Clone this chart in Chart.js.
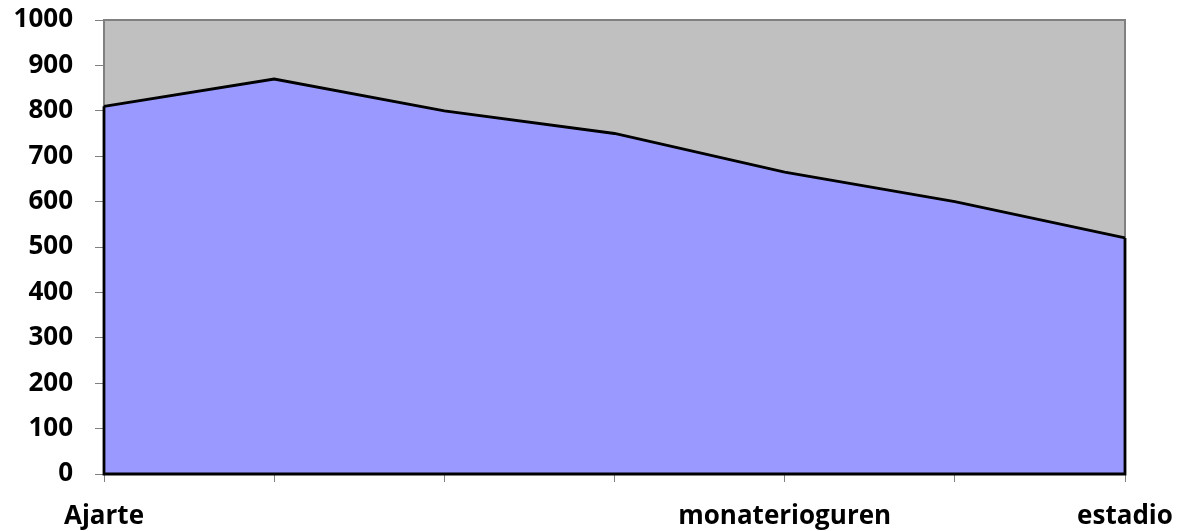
<!DOCTYPE html>
<html>
<head>
<meta charset="utf-8">
<script src="https://cdn.jsdelivr.net/npm/chart.js@4/dist/chart.umd.min.js"></script>
<style>
  body { margin: 0; background: #fff; }
  canvas { display: block; }
</style>
</head>
<body>
<canvas id="areaChart" width="1182" height="531"></canvas>
<script>
  // categories (only some labels are printed on the axis)
  const stops = ['Ajarte', '', '', '', 'monaterioguren', '', 'estadio']
  const values = [810, 870, 800, 750, 665, 600, 520]
  const yTicks = [0, 100, 200, 300, 400, 500, 600, 700, 800, 900, 1000]

  const labelFont = { family: 'Open Sans', size: 26, weight: 'bold' }

  // grey plot background with a grey frame, plus the black outline of the area
  const plotFrame = {
    id: 'plotFrame',
    beforeDraw(chart) {
      const { ctx, chartArea: a } = chart
      ctx.save()
      ctx.fillStyle = '#c0c0c0'
      ctx.fillRect(a.left, a.top, a.right - a.left, a.bottom - a.top)
      ctx.strokeStyle = '#808080'
      ctx.lineWidth = 2
      ctx.beginPath()
      ctx.moveTo(a.left, a.top)
      ctx.lineTo(a.right, a.top)
      ctx.lineTo(a.right, a.bottom)
      ctx.stroke()
      ctx.restore()
    },
    afterDatasetsDraw(chart) {
      const { ctx } = chart
      const pts = chart.getDatasetMeta(0).data
      const first = pts[0]
      const last = pts[pts.length - 1]
      const base = chart.scales.y.getPixelForValue(0)
      ctx.save()
      ctx.strokeStyle = '#000'
      ctx.lineWidth = 2.8
      ctx.beginPath()
      ctx.moveTo(first.x, first.y)
      ctx.lineTo(first.x, base)
      ctx.lineTo(last.x, base)
      ctx.lineTo(last.x, last.y)
      ctx.stroke()
      ctx.restore()
    }
  }

  new Chart(document.getElementById('areaChart'), {
    type: 'line',
    data: {
      labels: stops,
      datasets: [{
        data: values,
        fill: 'origin',
        backgroundColor: '#9999ff',
        borderColor: '#000',
        borderWidth: 2.8,
        pointRadius: 0,
        tension: 0
      }]
    },
    options: {
      responsive: false,
      animation: false,
      layout: { padding: { top: 20, right: 57, left: 0, bottom: 0 } },
      plugins: { legend: { display: false }, tooltip: { enabled: false } },
      scales: {
        x: {
          afterFit(scale) {
            scale.height = 57
            scale.paddingLeft = 0
            scale.paddingRight = 0
          },
          border: { color: '#808080', width: 2 },
          grid: { drawOnChartArea: false, color: '#808080', tickLength: 8 },
          ticks: {
            autoSkip: false,
            maxRotation: 0,
            padding: 19,
            color: '#000',
            font: labelFont
          }
        },
        y: {
          min: 0,
          max: 1000,
          afterFit(scale) {
            scale.width = 104
            scale.paddingTop = 0
            scale.paddingBottom = 0
          },
          afterBuildTicks(scale) { scale.ticks = yTicks.map(v => ({ value: v })) },
          border: { color: '#808080', width: 2 },
          grid: { drawOnChartArea: false, color: '#808080', tickLength: 9 },
          ticks: {
            padding: 22,
            color: '#000',
            font: labelFont,
            callback: v => String(v)
          }
        }
      }
    },
    plugins: [plotFrame]
  })
</script>
</body>
</html>
